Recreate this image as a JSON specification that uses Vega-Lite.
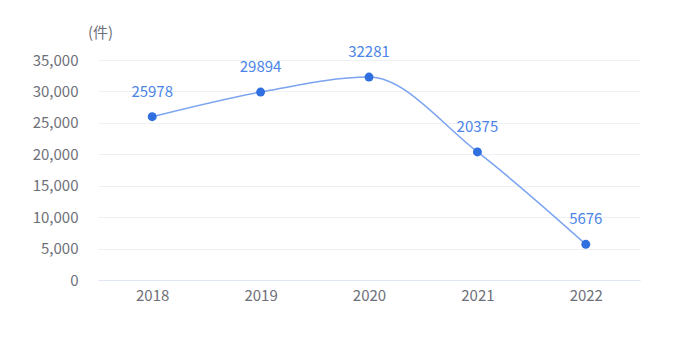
{
  "$schema": "https://vega.github.io/schema/vega-lite/v6.json",
  "width": 542,
  "height": 220,
  "autosize": {"type": "none"},
  "padding": {"left": 98, "top": 60, "right": 48, "bottom": 77},
  "background": "white",
  "config": {"view": {"stroke": null}, "font": "Noto Sans CJK SC"},
  "data": {"values": [
    {"year": "2018", "value": 25978},
    {"year": "2019", "value": 29894},
    {"year": "2020", "value": 32281},
    {"year": "2021", "value": 20375},
    {"year": "2022", "value": 5676}
  ]},
  "encoding": {
    "x": {"field": "year", "type": "ordinal", "scale": {"paddingInner": 0, "paddingOuter": 0.5},
      "axis": {"title": null, "labelAngle": 0, "ticks": false, "domainColor": "#e0e6f1", "labelColor": "#6e7079", "labelFontSize": 15, "labelPadding": 8, "grid": false}},
    "y": {"field": "value", "type": "quantitative", "scale": {"domain": [0, 35000], "nice": false},
      "axis": {"title": "(件)", "titleAngle": 0, "titleX": 2, "titleY": -28, "titleAlign": "center", "titleBaseline": "middle", "titleFontWeight": "normal", "titleFontSize": 15, "titleColor": "#6e7079",
        "values": [0, 5000, 10000, 15000, 20000, 25000, 30000, 35000], "format": ",d", "domain": false, "ticks": false, "labelPadding": 20, "labelColor": "#6e7079", "labelFontSize": 15, "gridColor": "#eef0f3", "gridWidth": 1}}
  },
  "layer": [
    {"mark": {"type": "line", "interpolate": "monotone", "color": "#7aa3f0", "strokeWidth": 1.5}},
    {"mark": {"type": "point", "filled": true, "size": 80, "color": "#2f6fe0", "opacity": 1}},
    {"mark": {"type": "text", "dy": -25, "fontSize": 15, "color": "#4a84e8"}, "encoding": {"text": {"field": "value", "type": "quantitative", "format": "d"}}}
  ]
}
